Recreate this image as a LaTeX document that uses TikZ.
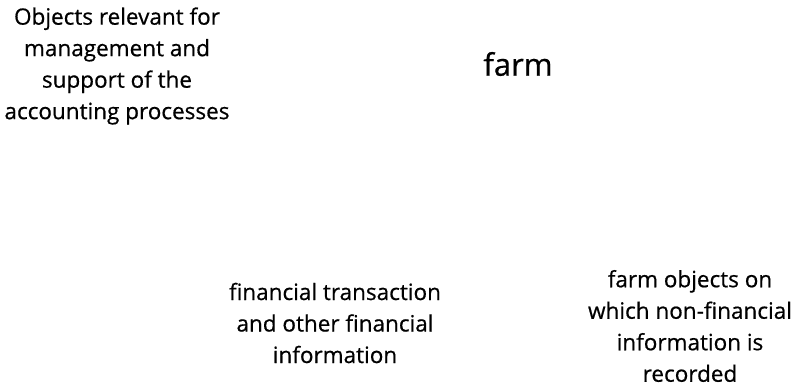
\documentclass[tikz,border=0pt]{standalone}
\usepackage{fontspec}
\setmainfont{Open Sans}
\usetikzlibrary{positioning}

\begin{document}
\begin{tikzpicture}[x = 1pt, y = -1pt,
  label text/.style = {align=center, font=\fontsize{22.5}{31.5}\selectfont\addfontfeature{FakeBold=0.6}, inner sep=0pt},
  title text/.style = {font=\fontsize{31}{36}\selectfont\addfontfeature{FakeBold=0.6}, inner sep=0pt}]
\useasboundingbox (0,0) rectangle (796,386);

  \node[label text] (objects) at (117,66) {Objects relevant for\\management and\\support of the\\accounting processes};

  \node[title text] (farm) at (518,64) {farm};

  \node[label text] (transaction) at (335,323) {financial transaction\\and other financial\\information};

  \node[label text] (farmObjects) at (690,326) {farm objects on\\which non-financial\\information is\\recorded};
\end{tikzpicture}
\end{document}
